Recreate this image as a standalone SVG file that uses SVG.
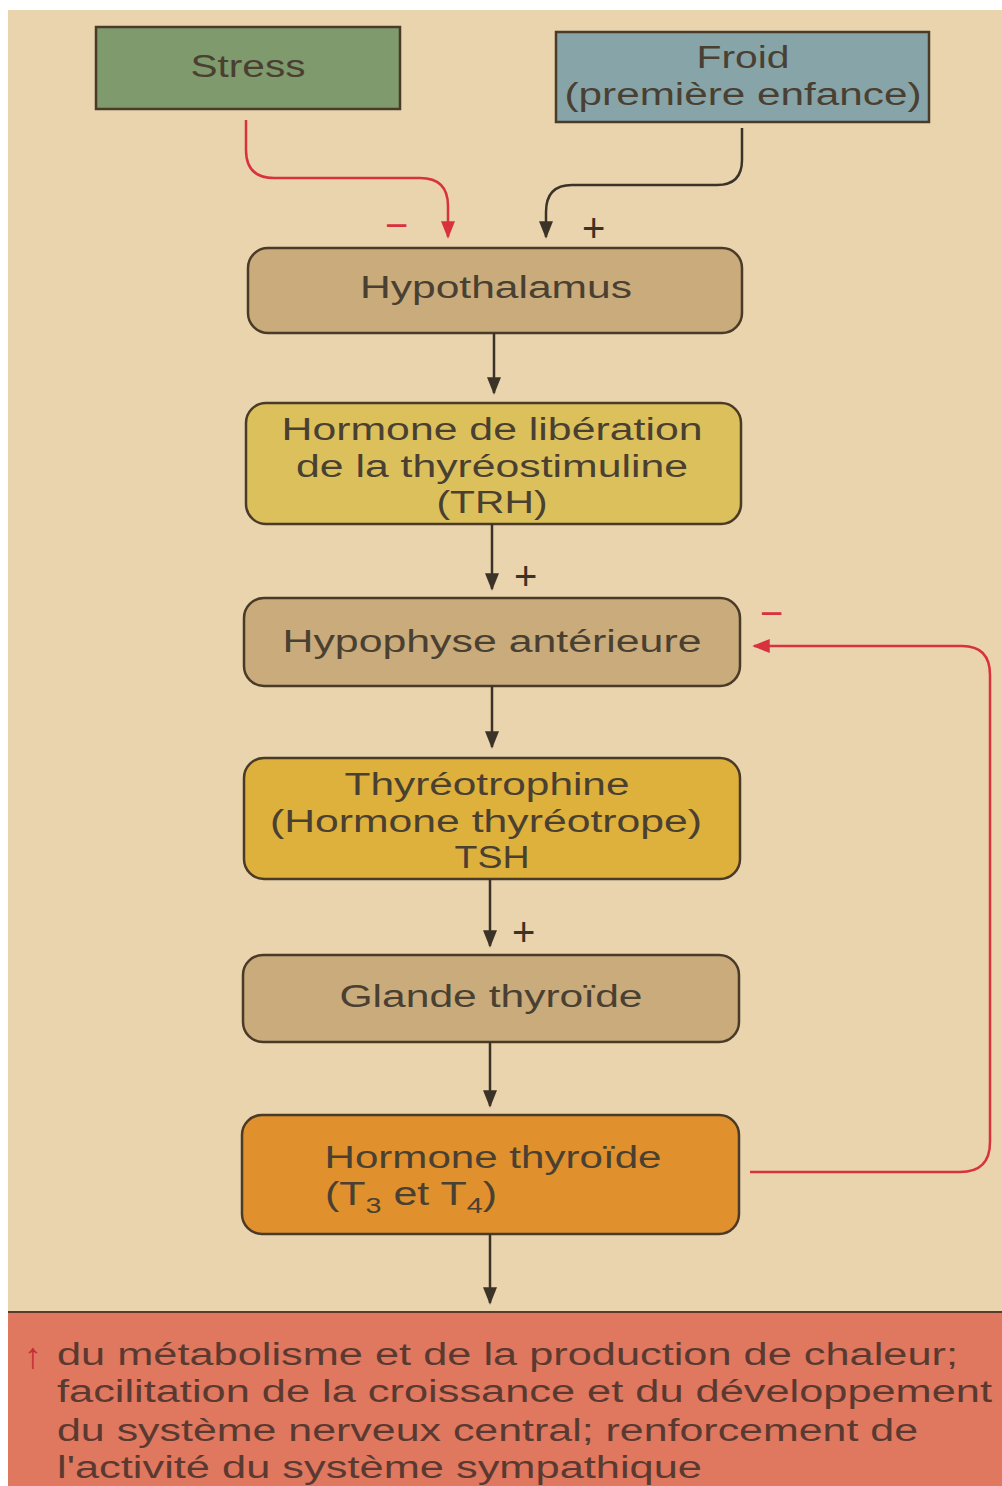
<svg xmlns="http://www.w3.org/2000/svg" width="1002" height="1486" viewBox="0 0 1002 1486">
<defs>
<style>
.t{font-family:"Liberation Sans",Arial,sans-serif;font-size:31px;fill:#4a4032;text-anchor:middle}
.b{font-family:"Liberation Sans",Arial,sans-serif;font-size:31px;fill:#5a3a30}
.box{stroke:#4a3a28;stroke-width:2.5}
.c{fill:none;stroke:#3c3328;stroke-width:2.5}
.r{fill:none;stroke:#d8323e;stroke-width:2.5}
.s{font-family:"Liberation Sans",Arial,sans-serif;font-size:40px;fill:#3c3328}
</style>
<marker id="ak" viewBox="0 0 10 10" refX="9" refY="5" markerWidth="7" markerHeight="7" orient="auto" markerUnits="strokeWidth"><path d="M0,1 L10,5 L0,9 Z" fill="#3c3328"/></marker>
<marker id="ar" viewBox="0 0 10 10" refX="9" refY="5" markerWidth="7" markerHeight="7" orient="auto" markerUnits="strokeWidth"><path d="M0,1 L10,5 L0,9 Z" fill="#d8323e"/></marker>
</defs>
<rect width="1002" height="1486" fill="#ffffff"/>
<rect x="8" y="10" width="994" height="1476" fill="#e9d4ad"/>
<rect x="8" y="1312" width="994" height="174" fill="#e0775f"/>
<line x1="8" y1="1312" x2="1002" y2="1312" stroke="#5a3a28" stroke-width="2"/>

<g id="stress"><rect class="box" x="96" y="27" width="304" height="82" fill="#7f9a6c"/><text class="t" x="248" y="77" textLength="115" lengthAdjust="spacingAndGlyphs">Stress</text></g>
<g id="froid"><rect class="box" x="556" y="32" width="373" height="90" fill="#87a4a8"/><text class="t" x="743" y="68" textLength="93" lengthAdjust="spacingAndGlyphs">Froid</text><text class="t" x="743" y="105" textLength="357" lengthAdjust="spacingAndGlyphs">(première enfance)</text></g>
<g id="hypothalamus"><rect class="box" x="248" y="248" width="494" height="85" rx="20" fill="#c9ab7c"/><text class="t" x="496" y="298" textLength="272" lengthAdjust="spacingAndGlyphs">Hypothalamus</text></g>
<g id="trh"><rect class="box" x="246" y="403" width="495" height="121" rx="20" fill="#dcc05c"/><text class="t" x="492" y="440" textLength="421" lengthAdjust="spacingAndGlyphs">Hormone de libération</text><text class="t" x="492" y="477" textLength="392" lengthAdjust="spacingAndGlyphs">de la thyréostimuline</text><text class="t" x="492" y="513" textLength="111" lengthAdjust="spacingAndGlyphs">(TRH)</text></g>
<g id="hypophyse"><rect class="box" x="244" y="598" width="496" height="88" rx="20" fill="#c9ab7c"/><text class="t" x="492" y="652" textLength="419" lengthAdjust="spacingAndGlyphs">Hypophyse antérieure</text></g>
<g id="tsh"><rect class="box" x="244" y="758" width="496" height="121" rx="20" fill="#deb03c"/><text class="t" x="487" y="795" textLength="285" lengthAdjust="spacingAndGlyphs">Thyréotrophine</text><text class="t" x="486" y="832" textLength="432" lengthAdjust="spacingAndGlyphs">(Hormone thyréotrope)</text><text class="t" x="492" y="868" textLength="75" lengthAdjust="spacingAndGlyphs">TSH</text></g>
<g id="glande"><rect class="box" x="243" y="955" width="496" height="87" rx="20" fill="#c9ab7c"/><text class="t" x="491" y="1007" textLength="303" lengthAdjust="spacingAndGlyphs">Glande thyroïde</text></g>
<g id="hormone"><rect class="box" x="242" y="1115" width="497" height="119" rx="20" fill="#e0902c"/><text class="t" x="493" y="1168" textLength="337" lengthAdjust="spacingAndGlyphs">Hormone thyroïde</text><text class="t" x="325" y="1205" style="text-anchor:start;font-size:33px" textLength="172" lengthAdjust="spacingAndGlyphs">(T<tspan font-size="22" dy="8">3</tspan><tspan dy="-8"> et T</tspan><tspan font-size="22" dy="8">4</tspan><tspan dy="-8">)</tspan></text></g>
<g id="effets">
<text class="b" x="24" y="1368" style="fill:#c0303a;font-size:36px">↑</text>
<text class="b" x="57" y="1365" textLength="901" lengthAdjust="spacingAndGlyphs">du métabolisme et de la production de chaleur;</text>
<text class="b" x="57" y="1402" textLength="935" lengthAdjust="spacingAndGlyphs">facilitation de la croissance et du développement</text>
<text class="b" x="57" y="1441" textLength="861" lengthAdjust="spacingAndGlyphs">du système nerveux central; renforcement de</text>
<text class="b" x="57" y="1478" textLength="645" lengthAdjust="spacingAndGlyphs">l'activité du système sympathique</text>
</g>

<g id="connectors">
<path class="r" d="M246,120 L246,150 Q246,178 274,178 L420,178 Q448,178 448,206 L448,237" marker-end="url(#ar)"/>
<path class="c" d="M742,128 L742,160 Q742,185 717,185 L572,185 Q546,185 546,212 L546,237" marker-end="url(#ak)"/>
<path class="c" d="M494,333 L494,393" marker-end="url(#ak)"/>
<path class="c" d="M492,524 L492,589" marker-end="url(#ak)"/>
<path class="c" d="M492,686 L492,747" marker-end="url(#ak)"/>
<path class="c" d="M490,879 L490,946" marker-end="url(#ak)"/>
<path class="c" d="M490,1042 L490,1106" marker-end="url(#ak)"/>
<path class="c" d="M490,1234 L490,1303" marker-end="url(#ak)"/>
<path class="r" d="M750,1172 L960,1172 Q990,1172 990,1142 L990,675 Q990,646 962,646 L754,646" marker-end="url(#ar)"/>
<text class="s" x="385" y="239" style="fill:#d8323e">−</text>
<text class="s" x="582" y="242">+</text>
<text class="s" x="514" y="590">+</text>
<text class="s" x="512" y="946">+</text>
<text class="s" x="760" y="627" style="fill:#d8323e">−</text>
</g>
</svg>
